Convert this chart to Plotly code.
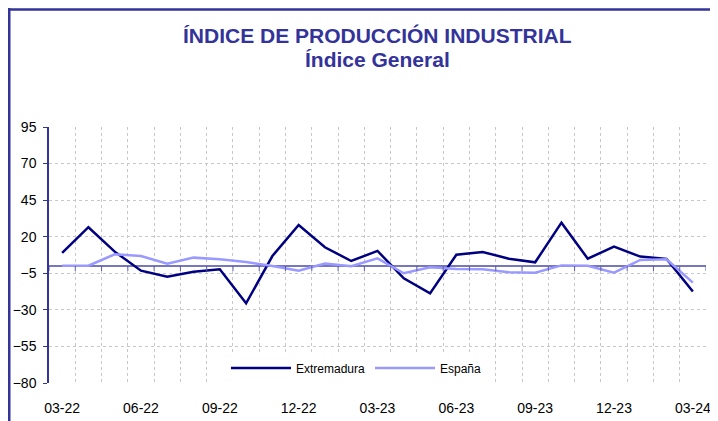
import plotly.graph_objects as go

# Datos (tasa de variación interanual, %)
meses = ["03-22", "04-22", "05-22", "06-22", "07-22", "08-22", "09-22", "10-22",
         "11-22", "12-22", "01-23", "02-23", "03-23", "04-23", "05-23", "06-23",
         "07-23", "08-23", "09-23", "10-23", "11-23", "12-23", "01-24", "02-24",
         "03-24"]
extremadura = [9.0, 26.5, 9.8, -3.2, -7.3, -3.9, -2.3, -25.5, 6.8, 28.0, 12.8, 3.4,
               10.3, -8.4, -18.7, 7.7, 9.6, 5.0, 2.5, 29.6, 5.0, 13.2, 6.4, 4.8, -17.5]
espana = [0.2, 0.2, 8.0, 6.8, 1.6, 5.7, 4.6, 2.7, 0.0, -3.2, 1.6, -0.2,
          5.2, -5.0, -0.9, -2.0, -2.3, -4.3, -4.6, 0.4, 0.2, -4.6, 4.1, 4.6, -11.4]
y_ticks = [-80, -55, -30, -5, 20, 45, 70, 95]

azul = '#333399'
x = list(range(len(meses)))

fig = go.Figure()
fig.add_trace(go.Scatter(x=x, y=extremadura, mode='lines', name='Extremadura',
                         line=dict(color='#000080', width=2.5)))
fig.add_trace(go.Scatter(x=x, y=espana, mode='lines', name='España',
                         line=dict(color='#9999ff', width=2.5)))

# marcas del eje de categorías sobre la línea del cero
for i in range(len(meses) + 1):
    fig.add_shape(type='line', xref='x', yref='y', x0=i - 0.5, x1=i - 0.5,
                  ysizemode='pixel', yanchor=0, y0=0, y1=-5,
                  line=dict(color='#5c5ca8', width=1))

# marco del gráfico (la página añade 8 px de margen)
fig.add_shape(type='line', xref='paper', yref='paper', x0=-0.07, x1=1.05,
              y0=1.459, y1=1.459, line=dict(color=azul, width=2.5))
fig.add_shape(type='line', xref='paper', yref='paper', x0=-0.0605, x1=-0.0605,
              y0=1.47, y1=-0.2, line=dict(color=azul, width=2.5))

# título en dos líneas
fig.add_annotation(text='<b>ÍNDICE DE PRODUCCIÓN INDUSTRIAL</b>', xref='paper', yref='paper',
                   x=0.5, y=1.3555, xanchor='center', yanchor='middle', showarrow=False,
                   font=dict(size=21, color=azul))
fig.add_annotation(text='<b>Índice General</b>', xref='paper', yref='paper',
                   x=0.5, y=1.262, xanchor='center', yanchor='middle', showarrow=False,
                   font=dict(size=21, color=azul))

fig.update_layout(
    width=718, height=421,
    margin=dict(l=41, r=20, t=119, b=46),
    plot_bgcolor='white', paper_bgcolor='white',
    font=dict(family='Liberation Sans, Arial, sans-serif', size=14, color='black'),
    legend=dict(orientation='h', x=0.468, xanchor='center', y=0.059, yanchor='middle',
                bgcolor='white', font=dict(size=12), itemwidth=60),
    showlegend=True,
)

fig.update_xaxes(range=[-0.5, len(meses) - 0.5], tickvals=x[::3], ticktext=meses[::3],
                 showgrid=False, zeroline=False, showline=False, ticks='',
                 ticklabelstandoff=15, automargin=False,
                 minor=dict(tick0=-0.5, dtick=1, showgrid=True, gridcolor='#c8c8c8',
                            griddash='dot', gridwidth=1, ticks=''))
fig.update_yaxes(range=[-80, 95], tickvals=y_ticks, showgrid=True, gridcolor='#c8c8c8',
                 griddash='dot', zeroline=True, zerolinecolor='#7777bb', zerolinewidth=1.5,
                 showline=True, linecolor=azul, linewidth=1.5, ticks='outside',
                 tickcolor=azul, ticklen=4, ticklabelstandoff=4, automargin=False)

fig.write_html("out.html")
